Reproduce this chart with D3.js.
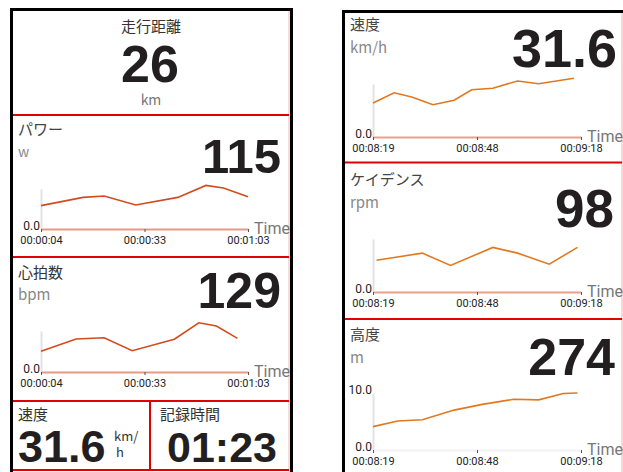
<!DOCTYPE html>
<html>
<head>
<meta charset="utf-8">
<script src="https://cdn.jsdelivr.net/npm/d3@7"></script>
<style>
  body { margin: 0; background: #fff; }
  svg { display: block; }
  .jp { font-family: "Noto Sans CJK JP", sans-serif; }
  .big { font-family: "Liberation Sans", Arial, sans-serif; font-weight: bold; fill: #231f20; }
</style>
</head>
<body>
<svg id="chart" width="623" height="472"></svg>
<script>
// readings shown in tiles
const distanceReading = '26';
const powerReading = '115';
const heartReading = '129';
const speedReading = '31.6';
const elapsedReading = '01:23';
const cadenceReading = '98';
const altitudeReading = '274';

// trend series (seconds since start, value)
const powerTimes = [4, 16, 22, 31, 43, 51, 56, 63];
const powerValues = [117, 158, 165, 120, 158, 218, 205, 161];
const heartTimes = [4, 14, 22, 30, 42, 49, 54, 60];
const heartValues = [101, 161, 167, 104, 160, 240, 224, 164];
const speedTimes = [499, 505, 510, 516, 522, 527, 533, 540, 546, 556];
const speedValues = [25.7, 33.4, 30.2, 24.4, 27.7, 35.7, 36.8, 42.3, 40.2, 44.3];
const cadenceTimes = [500, 513, 521, 533, 540, 549, 557];
const cadenceValues = [72, 88, 60, 101, 88, 63, 101];
const altitudeTimes = [499, 506, 513, 522, 530, 539, 546, 553, 557];
const altitudeValues = [4.1, 5.1, 5.3, 7.0, 8.0, 8.9, 8.8, 9.9, 10.0];

// x axis ticks
const leftTickValues = [4, 33.5, 63];
const leftTickLabels = ['00:00:04', '00:00:33', '00:01:03'];
const rightTickValues = [499, 528.5, 558];
const rightTickLabels = ['00:08:19', '00:08:48', '00:09:18'];

const svg = d3.select('#chart');

function addText(x, y, text, cls, size, fill, anchor) {
    return svg.append('text')
        .attr('class', cls)
        .attr('x', x)
        .attr('y', y)
        .attr('font-size', size)
        .attr('fill', fill)
        .attr('text-anchor', anchor || 'start')
        .text(text);
}

function drawTrend(o) {
    const x = d3.scaleLinear().domain(o.domainX).range([o.left, o.right]);
    const y = d3.scaleLinear().domain([0, o.yMax]).range([o.bottom, o.top]);

    const gy = svg.append('g')
        .attr('transform', `translate(${o.left},0)`)
        .call(d3.axisLeft(y).tickValues(o.yTicks).tickSize(0).tickPadding(1)
            .tickFormat(d3.format('.1f')));
    gy.select('.domain').attr('stroke', '#e2e2e2').attr('stroke-width', 2);
    gy.selectAll('text')
        .attr('dy', '0em')
        .attr('font-family', 'Roboto, sans-serif')
        .attr('font-size', 12)
        .attr('fill', '#222');

    const gx = svg.append('g')
        .attr('transform', `translate(0,${o.bottom})`)
        .call(d3.axisBottom(x).tickValues(o.tickValues).tickSize(3).tickSizeOuter(0)
            .tickPadding(4).tickFormat((d, i) => o.tickLabels[i]));
    gx.select('.domain').attr('stroke', o.baseColor).attr('stroke-width', 2);
    gx.selectAll('.tick line').attr('stroke', '#555');
    gx.selectAll('text')
        .attr('font-family', 'Roboto, sans-serif')
        .attr('font-size', 11)
        .attr('fill', '#222');

    addText(o.right + 6, o.bottom + 5, 'Time', '', 16, '#777')
        .attr('font-family', 'Roboto, sans-serif');

    const line = d3.line()
        .x((d, i) => x(o.times[i]))
        .y(d => y(d));
    svg.append('path')
        .datum(o.values)
        .attr('d', line)
        .attr('fill', 'none')
        .attr('stroke', o.color)
        .attr('stroke-width', 1.6);
}

// ---- frames
svg.append('rect').attr('x', 11.5).attr('y', 9.5).attr('width', 280).attr('height', 480)
    .attr('fill', 'none').attr('stroke', '#000').attr('stroke-width', 3);
svg.append('rect').attr('x', 343.5).attr('y', 11.5).attr('width', 300).attr('height', 480)
    .attr('fill', 'none').attr('stroke', '#000').attr('stroke-width', 3);
svg.append('line').attr('x1', 289).attr('x2', 289).attr('y1', 11).attr('y2', 472)
    .attr('stroke', '#f2b4b4').attr('stroke-width', 1);
svg.append('line').attr('x1', 622).attr('x2', 622).attr('y1', 13).attr('y2', 472)
    .attr('stroke', '#f2b4b4').attr('stroke-width', 1);

const red = '#e00000';
[115, 257, 401, 470].forEach(yy => {
    svg.append('line').attr('x1', 13).attr('x2', 289).attr('y1', yy).attr('y2', yy)
        .attr('stroke', red).attr('stroke-width', 2);
});
svg.append('line').attr('x1', 150).attr('x2', 150).attr('y1', 401).attr('y2', 470)
    .attr('stroke', red).attr('stroke-width', 2);
[162.5, 319].forEach(yy => {
    svg.append('line').attr('x1', 345).attr('x2', 622).attr('y1', yy).attr('y2', yy)
        .attr('stroke', red).attr('stroke-width', 2);
});

// ---- left panel tiles
addText(151, 32, '走行距離', 'jp', 15, '#333', 'middle');
addText(150, 82, distanceReading, 'big', 52, null, 'middle');
addText(151, 105, 'km', 'jp', 14, '#777', 'middle');

addText(18, 135, 'パワー', 'jp', 15, '#444');
addText(18, 157, 'w', 'jp', 14, '#888');
addText(281, 173, powerReading, 'big', 49, null, 'end');
drawTrend({
    left: 41, right: 248, top: 189, bottom: 229,
    domainX: [4, 63], times: powerTimes, values: powerValues, yMax: 200, yTicks: [0],
    tickValues: leftTickValues, tickLabels: leftTickLabels,
    color: '#d24b1c', baseColor: '#e59a88'
});

addText(18, 278, '心拍数', 'jp', 15, '#333');
addText(18, 300, 'bpm', 'jp', 15, '#888');
addText(281, 308, heartReading, 'big', 50, null, 'end');
drawTrend({
    left: 41, right: 248, top: 331, bottom: 372,
    domainX: [4, 63], times: heartTimes, values: heartValues, yMax: 200, yTicks: [0],
    tickValues: leftTickValues, tickLabels: leftTickLabels,
    color: '#d24b1c', baseColor: '#e59a88'
});

addText(18, 420, '速度', 'jp', 15, '#333');
addText(18, 462, speedReading, 'big', 45, null);
addText(114, 441, 'km/', 'jp', 13, '#333');
addText(116, 457, 'h', 'jp', 13, '#333');
addText(160, 420, '記録時間', 'jp', 15, '#333');
addText(167, 462, elapsedReading, 'big', 43, null);

// ---- right panel tiles
addText(350, 30, '速度', 'jp', 15, '#444');
addText(350, 53, 'km/h', 'jp', 15, '#888');
addText(617, 67, speedReading, 'big', 54, null, 'end');
drawTrend({
    left: 373, right: 581, top: 84, bottom: 137,
    domainX: [499, 558], times: speedTimes, values: speedValues, yMax: 40, yTicks: [0],
    tickValues: rightTickValues, tickLabels: rightTickLabels,
    color: '#e2781e', baseColor: '#e9a08c'
});

addText(350, 185, 'ケイデンス', 'jp', 15, '#444');
addText(350, 208, 'rpm', 'jp', 15, '#888');
addText(614, 227, cadenceReading, 'big', 53, null, 'end');
drawTrend({
    left: 373, right: 581, top: 239, bottom: 292,
    domainX: [499, 558], times: cadenceTimes, values: cadenceValues, yMax: 120, yTicks: [0],
    tickValues: rightTickValues, tickLabels: rightTickLabels,
    color: '#e2781e', baseColor: '#e9a08c'
});

addText(350, 340, '高度', 'jp', 15, '#444');
addText(350, 363, 'm', 'jp', 15, '#888');
addText(615, 375, altitudeReading, 'big', 52, null, 'end');
drawTrend({
    left: 373, right: 581, top: 393, bottom: 450,
    domainX: [499, 558], times: altitudeTimes, values: altitudeValues, yMax: 10, yTicks: [0, 10],
    tickValues: rightTickValues, tickLabels: rightTickLabels,
    color: '#e2781e', baseColor: '#f2f2f2'
});
</script>
</body>
</html>
